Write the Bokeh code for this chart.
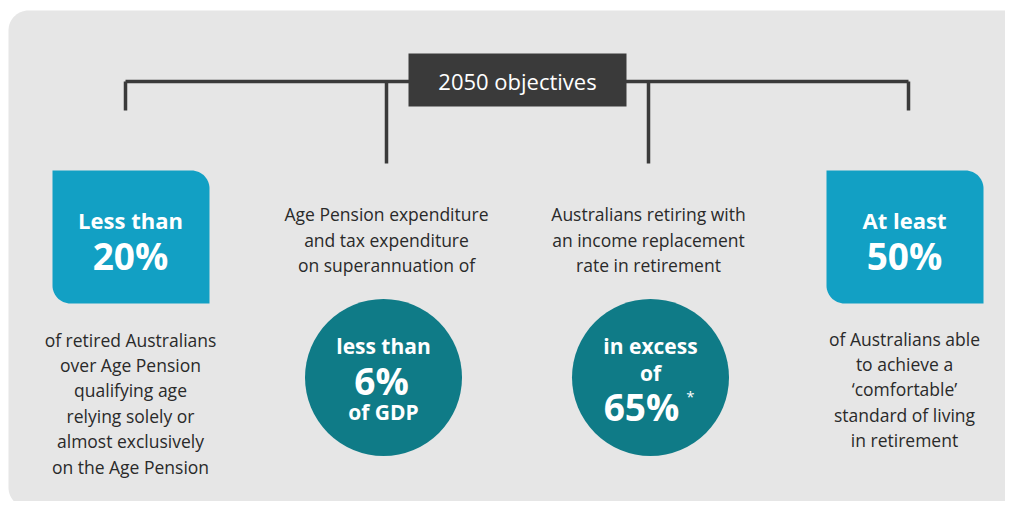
from bokeh.plotting import figure
from bokeh.models import Range1d
from bokeh.core.properties import value
from bokeh.embed import file_html
from bokeh.resources import INLINE
import numpy as np

# ---- content ----
title = "2050 objectives"
box_leads = ["Less than", "At least"]
box_values = [20, 50]
box_notes = [
    ["of retired Australians", "over Age Pension", "qualifying age",
     "relying solely or", "almost exclusively", "on the Age Pension"],
    ["of Australians able", "to achieve a", "\u2018comfortable\u2019",
     "standard of living", "in retirement"],
]
circle_intros = [
    ["Age Pension expenditure", "and tax expenditure", "on superannuation of"],
    ["Australians retiring with", "an income replacement", "rate in retirement"],
]
circle_leads = [["less than"], ["in excess", "of"]]
circle_values = [6, 65]
circle_tails = ["of GDP", "*"]

# ---- styles ----
FONT = value("Open Sans")
PANEL = "#e6e6e6"
CYAN = "#12a0c4"
TEAL = "#0f7b87"
DARK = "#3a3a3a"
TXT = "#2a2a2a"

W, H = 1005, 501
p = figure(width=W, height=H, x_range=Range1d(0, W), y_range=Range1d(H, 0),
           output_backend="svg", toolbar_location=None, min_border=0)
p.axis.visible = False
p.grid.visible = False
p.outline_line_color = None
p.background_fill_color = "white"
p.border_fill_color = "white"


def rounded(x0, y0, x1, y1, rtl, rtr, rbr, rbl, n=16):
    xs, ys = [], []
    def arc(cx, cy, r, a0, a1):
        if r <= 0:
            xs.append(cx); ys.append(cy); return
        for a in np.linspace(np.radians(a0), np.radians(a1), n):
            xs.append(cx + r * np.cos(a)); ys.append(cy + r * np.sin(a))
    arc(x0 + rtl, y0 + rtl, rtl, 180, 270)
    arc(x1 - rtr, y0 + rtr, rtr, 270, 360)
    arc(x1 - rbr, y1 - rbr, rbr, 0, 90)
    arc(x0 + rbl, y1 - rbl, rbl, 90, 180)
    return xs, ys


# background panel
px, py = rounded(8, 10, 1030, 507, 20, 20, 20, 20)
p.patch(px, py, fill_color=PANEL, line_color=None)

# tree connector
LW = 3.5
p.line([125, 908], [81, 81], line_color=DARK, line_width=LW)
for cx, bottom in [(125, 110), (908, 110), (386, 163), (648, 163)]:
    p.line([cx, cx], [81, bottom], line_color=DARK, line_width=LW)
p.quad(left=[408], right=[626], top=[53], bottom=[106], fill_color=DARK, line_color=None)
p.text([517], [80], text=[title], text_font=FONT, text_font_size="22px",
       text_color="white", text_align="center", text_baseline="middle")

# cyan boxes
box_centers = [130, 904]
for i, cx in enumerate(box_centers):
    bx, by = rounded(cx - 78, 170, cx + 79, 303, 0, 18, 0, 18)
    p.patch(bx, by, fill_color=CYAN, line_color=None)
    p.text([cx], [219], text=[box_leads[i]], text_font=FONT, text_font_size="22px",
           text_font_style="bold", text_color="white", text_align="center",
           text_baseline="middle")
    p.text([cx], [255], text=[f"{box_values[i]}%"], text_font=FONT, text_font_size="37px",
           text_font_style="bold", text_color="white", text_align="center",
           text_baseline="middle")
    notes = box_notes[i]
    top = 339 if i == 0 else 338
    ys_ = [top + k * 25.4 for k in range(len(notes))]
    p.text([cx] * len(notes), ys_, text=notes, text_font=FONT, text_font_size="17.5px",
           text_color=TXT, text_align="center", text_baseline="middle")

# circles
circle_centers = [383, 650]
intro_centers = [386, 648]
for i, cx in enumerate(circle_centers):
    intro = circle_intros[i]
    p.text([intro_centers[i]] * 3, [213, 239, 264], text=intro, text_font=FONT,
           text_font_size="17.5px", text_color=TXT, text_align="center",
           text_baseline="middle")
    p.scatter([cx], [377], size=157, marker="circle", fill_color=TEAL, line_color=None)

# left circle text
p.text([383], [345], text=circle_leads[0], text_font=FONT, text_font_size="21px",
       text_font_style="bold", text_color="white", text_align="center", text_baseline="middle")
p.text([381], [380], text=[f"{circle_values[0]}%"], text_font=FONT, text_font_size="37px",
       text_font_style="bold", text_color="white", text_align="center", text_baseline="middle")
p.text([383], [411], text=[circle_tails[0]], text_font=FONT, text_font_size="21px",
       text_font_style="bold", text_color="white", text_align="center", text_baseline="middle")

# right circle text
p.text([650, 650], [345, 372], text=circle_leads[1], text_font=FONT, text_font_size="21px",
       text_font_style="bold", text_color="white", text_align="center", text_baseline="middle")
p.text([641], [406], text=[f"{circle_values[1]}%"], text_font=FONT, text_font_size="37px",
       text_font_style="bold", text_color="white", text_align="center", text_baseline="middle")
p.text([690], [395], text=[circle_tails[1]], text_font=FONT, text_font_size="15px",
       text_color="white", text_align="center", text_baseline="middle")

open("out.html", "w").write(file_html(p, INLINE))
